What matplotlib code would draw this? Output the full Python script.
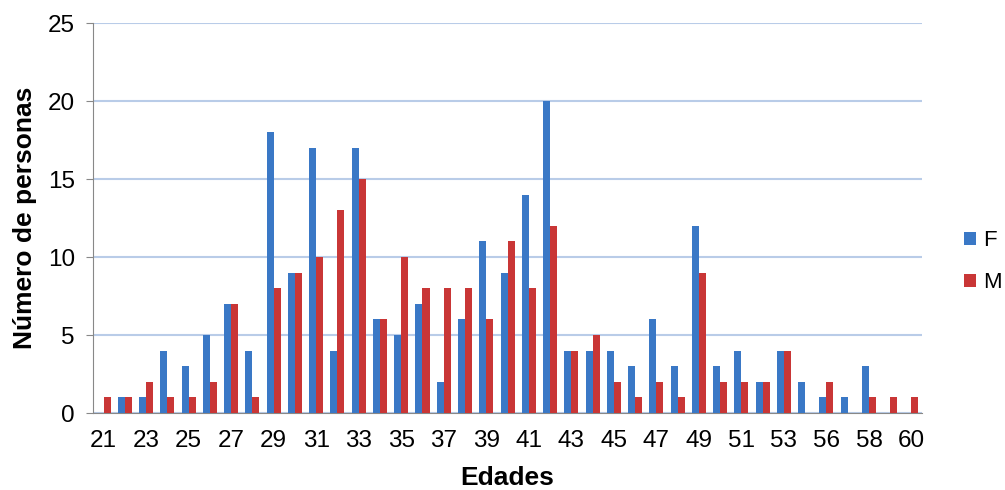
import matplotlib
matplotlib.use("Agg")
import matplotlib.pyplot as plt
import numpy as np

edades = ["21","22","23","24","25","26","27","28","29","30","31","32","33","34","35",
          "36","37","38","39","40","41","42","43","44","45","46","47","48","49","50",
          "51","52","53","54","56","57","58","59","60"]
F = [0,1,1,4,3,5,7,4,18,9,17,4,17,6,5,7,2,6,11,9,14,20,4,4,4,3,6,3,12,3,4,2,4,2,1,1,3,0,0]
M = [1,1,2,1,1,2,7,1,8,9,10,13,15,6,10,8,8,8,6,11,8,12,4,5,2,1,2,1,9,2,2,2,4,0,2,0,1,1,1]

plt.rcParams['font.family'] = ['Liberation Sans', 'DejaVu Sans']
fig = plt.figure(figsize=(10.05, 4.9), dpi=100)
ax = fig.add_axes([0.0925, 0.157, 0.825, 0.796])

x = np.arange(len(edades))
w = 0.33
blue = "#3a78c6"
red = "#c93636"
ax.bar(x - w/2, F, width=w, color=blue, label="F", zorder=3)
ax.bar(x + w/2, M, width=w, color=red, label="M", zorder=3)

ax.set_xlim(-0.5, len(edades) - 0.5)
ax.set_ylim(0, 25)
ax.set_yticks(range(0, 26, 5))
ax.set_xticks(x[::2])
ax.set_xticklabels(edades[::2])
ax.tick_params(axis='x', length=0, labelsize=17.5, pad=12)
ax.tick_params(axis='y', length=5, color="#888888", labelsize=17.5, pad=8)
ax.grid(axis='y', color="#b9cce8", linewidth=1.5, zorder=0)
for s in ["top", "right"]:
    ax.spines[s].set_visible(False)
ax.spines["left"].set_color("#888888")
ax.spines["bottom"].set_color("#888888")

ax.set_xlabel("Edades", fontsize=19, fontweight="bold", labelpad=10)
ax.set_ylabel("Número de personas", fontsize=19, fontweight="bold", labelpad=8)

leg = ax.legend(loc="center left", bbox_to_anchor=(1.034, 0.388), frameon=False,
                fontsize=16, handlelength=0.55, handleheight=0.55, handletextpad=0.35,
                labelspacing=0.95, borderaxespad=0.2)

fig.savefig("out.png", dpi=100)
